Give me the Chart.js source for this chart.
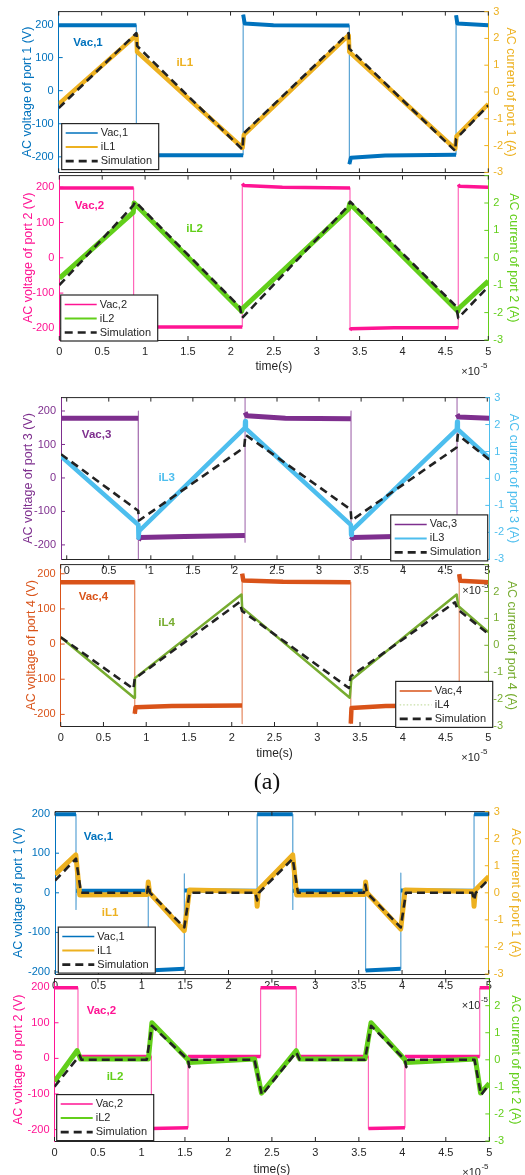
<!DOCTYPE html>
<html>
<head>
<meta charset="utf-8">
<script src="https://cdn.jsdelivr.net/npm/chart.js@4.4.1/dist/chart.umd.min.js"></script>
<style>
    html, body { margin: 0; padding: 0; background: #fff; }
    body { width: 525px; height: 1175px; overflow: hidden; position: relative; }
    canvas { position: absolute; left: 0; }
    #tag { position: absolute; left: 0; width: 534px; top: 768px; line-height: 28px; text-align: center;
           font: 24px 'Liberation Serif', 'Times New Roman', serif; color: #111; }
</style>
</head>
<body>
<canvas id="c1"></canvas>
<canvas id="c2"></canvas>
<canvas id="c3"></canvas>
<canvas id="c4"></canvas>
<canvas id="c5"></canvas>
<canvas id="c6"></canvas>
<div id="tag">(a)</div>
<script>
(function(){

    var FONT = "'Liberation Sans', Arial, sans-serif";

    // time axis is in units of 1e-5 s
    var tickX = [0, 0.5, 1, 1.5, 2, 2.5, 3, 3.5, 4, 4.5, 5];
    var tickV = [-200, -100, 0, 100, 200];
    var tickA = [-3, -2, -1, 0, 1, 2, 3];

    // (a) port 1
    var vac1aT = [0, 0.904, 0.904, 2.147, 2.147, 2.165, 2.5, 3.383, 3.383, 3.4, 3.8, 4.625, 4.625, 4.64, 5];
    var vac1aV = [198, 198, -195, -195, 230, 203, 198, 197, -222, -203, -196, -194, 228, 203, 198];
    var il1aT = [0, 0.905, 0.912, 2.14, 2.155, 3.375, 3.382, 4.615, 4.63, 5];
    var il1aA = [-0.45, 2.12, 1.5, -2.08, -1.6, 2.12, 1.5, -2.12, -1.65, -0.45];
    var sim1aT = [0, 0.905, 0.912, 2.14, 2.15, 3.375, 3.382, 4.615, 4.625, 5];
    var sim1aA = [-0.6, 2.2, 1.72, -2.15, -1.55, 2.2, 1.62, -2.2, -1.75, -0.5];

    // (a) port 2
    var vac2aT = [0, 0.866, 0.866, 2.133, 2.133, 2.15, 2.6, 3.388, 3.388, 3.4, 3.9, 4.65, 4.65, 4.665, 5];
    var vac2aV = [198, 198, -196, -196, 210, 205, 200, 198, -205, -201, -198, -198, 208, 203, 200];
    var il2aT = [0, 0.862, 0.872, 2.125, 2.135, 3.372, 3.385, 4.645, 4.655, 5];
    var il2aA = [-0.75, 1.66, 2.0, -1.95, -1.85, 1.78, 1.98, -1.95, -1.85, -0.85];
    var sim2aT = [0, 0.86, 0.885, 2.105, 2.13, 3.37, 3.39, 4.625, 4.65, 5];
    var sim2aA = [-1.0, 1.9, 2.05, -1.8, -2.2, 1.9, 2.05, -1.77, -2.2, -1.05];

    // (a) port 3
    var vac3aT = [-0.068, 0.85, 0.852, 0.852, 0.853, 0.87, 1.4, 2.118, 2.12, 2.12, 2.121, 2.14, 2.6,
                  3.378, 3.38, 3.38, 3.381, 3.4, 3.9, 4.638, 4.64, 4.64, 4.641, 4.66, 5.024];
    var vac3aV = [178, 178, 200, -250, -186, -178, -175, -172, -192, 250, 196, 186, 178,
                  177, 200, -250, -185, -178, -175, -172, -170, 250, 190, 182, 178];
    var il3aT = [-0.068, 0.85, 0.853, 0.862, 2.118, 2.121, 2.13, 3.378, 3.381, 3.39, 4.638, 4.641, 4.65, 5.024];
    var il3aA = [0.82, -1.72, -2.2, -1.95, 1.88, 2.12, 1.85, -1.72, -2.1, -1.93, 1.82, 2.1, 1.82, 0.75];
    var sim3aT = [-0.068, 0.85, 0.86, 2.11, 2.125, 3.375, 3.385, 4.635, 4.65, 5.024];
    var sim3aA = [0.9, -1.2, -1.56, 1.15, 1.62, -1.15, -1.56, 1.15, 1.62, 0.7];

    // (a) port 4
    var vac4aT = [0, 0.864, 0.866, 0.866, 0.875, 1.3, 2.12, 2.122, 2.122, 2.135, 2.6,
                  3.39, 3.392, 3.392, 3.4, 3.8, 4.658, 4.66, 4.67, 5];
    var vac4aV = [176, 176, 180, -198, -180, -176, -175, -226, 200, 181, 177,
                  176, 176, -226, -182, -176, -175, 199, 180, 176];
    var il4aT = [0, 0.858, 0.868, 2.114, 2.122, 3.38, 3.398, 4.63, 4.648, 5];
    var il4aA = [0.3, -1.95, -1.22, 1.89, 1.4, -1.95, -1.28, 1.89, 1.46, 0.49];
    var sim4aT = [0, 0.85, 0.866, 2.09, 2.12, 3.37, 3.39, 4.61, 4.64, 5];
    var sim4aA = [0.3, -1.62, -1.24, 1.6, 1.28, -1.59, -1.16, 1.6, 1.34, 0.43];

    // (b) port 1
    var vac1bT = [0, 0.242, 0.242, 0.244, 1.075, 1.075, 1.49, 1.49, 1.492, 2.33, 2.33, 2.74, 2.74, 2.742,
                  3.58, 3.58, 3.985, 3.985, 3.987, 4.83, 4.83, 5];
    var vac1bV = [198, 198, -42, 5, 5, -196, -192, 48, 6, 5, 198, 198, -42, 5,
                  5, -196, -192, 50, 6, 5, 198, 198];
    var il1bT = [0, 0.24, 0.285, 1.065, 1.075, 1.09, 1.49, 1.55, 2.32, 2.33, 2.345, 2.74, 2.785,
                 3.57, 3.58, 3.595, 3.985, 4.035, 4.82, 4.83, 4.845, 5];
    var il1bA = [0.68, 1.4, -0.08, -0.06, 0.4, 0.0, -1.4, 0.1, 0.05, -0.5, 0.1, 1.4, -0.08,
                 -0.06, 0.4, 0.0, -1.34, 0.1, 0.05, -0.5, 0.1, 0.6];
    var sim1bT = [0, 0.242, 0.3, 1.06, 1.078, 1.095, 1.49, 1.55, 2.31, 2.33, 2.35, 2.74, 2.8,
                  3.56, 3.578, 3.595, 3.985, 4.045, 4.81, 4.83, 4.85, 5];
    var sim1bA = [0.45, 1.26, 0.0, 0.0, 0.3, 0.0, -1.28, 0.0, 0.0, -0.28, 0.0, 1.26, 0.0,
                  0.0, 0.3, 0.0, -1.28, 0.0, 0.0, -0.28, 0.0, 0.5];

    // (b) port 2
    var vac2bT = [0, 0.27, 0.27, 1.114, 1.114, 1.536, 1.536, 2.37, 2.37, 2.78, 2.78, 3.61, 3.61, 4.03, 4.03, 4.89, 4.89, 5];
    var vac2bV = [198, 198, 5, 5, -197, -195, 5, 5, 198, 198, 5, 5, -197, -195, 5, 5, 198, 198];
    var il2bT = [0, 0.26, 0.3, 1.08, 1.12, 1.536, 1.545, 2.3, 2.38, 2.78, 2.82, 3.57, 3.64, 4.03, 4.04, 4.84, 4.9, 5];
    var il2bA = [-0.8, 0.34, 0.03, 0.03, 1.37, 0.0, -0.1, 0.03, -1.23, 0.34, 0.03, 0.03, 1.37, 0.0, -0.1, 0.03, -1.23, -0.87];
    var sim2bT = [0, 0.29, 0.31, 1.06, 1.12, 1.536, 1.55, 1.575, 2.3, 2.385, 2.78, 2.82,
                  3.57, 3.64, 4.03, 4.045, 4.07, 4.83, 4.905, 5];
    var sim2bA = [-0.99, 0.16, 0.0, 0.0, 1.26, 0.0, -0.27, 0.0, 0.0, -1.3, 0.28, 0.0,
                  0.0, 1.26, 0.0, -0.27, 0.0, 0.0, -1.3, -0.9];

    var BLUE = '#0072BD', GOLD = '#EDB120', PINK = '#FF1493', LIME = '#62CF1A',
        PURPLE = '#7E2F8E', SKY = '#4DBEEE', RUST = '#D95319', OLIVE = '#77AC30';

    var panels = [
        { id: 'c1', top: 0, height: 184, L: 58.7, R: 488.3, T: 8.5, B: 173, xMin: 0, xMax: 5, vMin: -247, vMax: 239,
          vColor: BLUE, iColor: GOLD, port: 1, vTitleX: 27.3, iTitleX: 510,
          xLabels: false, xTitle: false, x10: false, hideTopA: false,
          vac: { t: vac1aT, v: vac1aV, label: 'Vac,1', w: 4 }, il: { t: il1aT, a: il1aA, label: 'iL1', w: 4.5 },
          sim: { t: sim1aT, a: sim1aA }, vacTag: [0.17, 146], ilTag: [1.37, 84], legend: [3, 112] },
        { id: 'c2', top: 164, height: 216, L: 59.3, R: 488.3, T: 172.3, B: 340, xMin: 0, xMax: 5, vMin: -233, vMax: 233,
          vColor: PINK, iColor: LIME, port: 2, vTitleX: 28.3, iTitleX: 513,
          xLabels: true, xTitle: true, xTitlePad: 6, x10: true, hideTopA: true,
          vac: { t: vac2aT, v: vac2aV, label: 'Vac,2', w: 3.5 }, il: { t: il2aT, a: il2aA, label: 'iL2', w: 5 },
          sim: { t: sim2aT, a: sim2aA }, vacTag: [0.18, 146], ilTag: [1.48, 81], legend: [1.4, 119.4] },
        { id: 'c3', top: 386, height: 214, L: 61, R: 489.3, T: 395, B: 559.3, xMin: -0.068, xMax: 5.024, vMin: -243, vMax: 240,
          vColor: PURPLE, iColor: SKY, port: 3, vTitleX: 28.3, iTitleX: 513,
          xLabels: true, xTitle: false, x10: true, hideTopA: false,
          vac: { t: vac3aT, v: vac3aV, label: 'Vac,3', w: 5 }, il: { t: il3aT, a: il3aA, label: 'iL3', w: 4.5 },
          sim: { t: sim3aT, a: sim3aA }, vacTag: [0.18, 128], ilTag: [1.09, 0], legend: [329.7, 117.3] },
        { id: 'c4', top: 553, height: 213, L: 60.7, R: 488.3, T: 561.5, B: 726, xMin: 0, xMax: 5, vMin: -233, vMax: 226,
          vColor: RUST, iColor: OLIVE, port: 4, vTitleX: 31.7, iTitleX: 511.7,
          xLabels: true, xTitle: true, xTitlePad: 4.8, x10: true, hideTopA: true,
          vac: { t: vac4aT, v: vac4aV, label: 'Vac,4', w: 4.5 },
          il: { t: il4aT, a: il4aA, label: 'iL4', w: 2.5, legendColor: '#b9d690', legendWidth: 1, legendDash: [1.5, 2] },
          sim: { t: sim4aT, a: sim4aA }, vacTag: [0.21, 133], ilTag: [1.14, 59], legend: [335, 116.8] },
        { id: 'c5', top: 800, height: 214, L: 55, R: 488.8, T: 809.5, B: 974, xMin: 0, xMax: 5, vMin: -205, vMax: 205,
          vColor: BLUE, iColor: GOLD, port: 1, vTitleX: 18.3, iTitleX: 515,
          xLabels: true, xTitle: false, x10: true, hideTopA: false,
          vac: { t: vac1bT, v: vac1bV, label: 'Vac,1', w: 4 }, il: { t: il1bT, a: il1bA, label: 'iL1', w: 5 },
          sim: { t: sim1bT, a: sim1bA }, vacTag: [0.33, 142], ilTag: [0.54, -50], legend: [3.3, 115.5] },
        { id: 'c6', top: 967, height: 218, L: 54.5, R: 489.3, T: 975.7, B: 1141, xMin: 0, xMax: 5, vMin: -232, vMax: 224,
          vColor: PINK, iColor: LIME, port: 2, vTitleX: 18.3, iTitleX: 515,
          xLabels: true, xTitle: true, xTitlePad: 7.8, x10: true, hideTopA: true,
          vac: { t: vac2bT, v: vac2bV, label: 'Vac,2', w: 3.5 }, il: { t: il2bT, a: il2bA, label: 'iL2', w: 5 },
          sim: { t: sim2bT, a: sim2bA }, vacTag: [0.37, 134], ilTag: [0.6, -51], legend: [2.2, 116] }
    ];

    function pts(t, y) {
        return t.map(function (v, i) { return { x: v, y: y[i] }; });
    }

    function fade(hex, a) {
        var n = parseInt(hex.slice(1), 16);
        return 'rgba(' + (n >> 16) + ',' + ((n >> 8) & 255) + ',' + (n & 255) + ',' + a + ')';
    }

    // fast switching edges come out thin and pale on the scope
    function edges(color, w) {
        function vert(c) { return Math.abs(c.p1.x - c.p0.x) < 0.5; }
        return {
            borderWidth: function (c) { return vert(c) ? 1.2 : w; },
            borderColor: function (c) { return vert(c) ? fade(color, 0.65) : color; }
        };
    }

    function seg(ctx, x0, y0, x1, y1, color) {
        ctx.strokeStyle = color;
        ctx.beginPath();
        ctx.moveTo(x0, y0);
        ctx.lineTo(x1, y1);
        ctx.stroke();
    }

    function decor(p) {
        return {
            id: 'decor',
            afterDraw: function (chart) {
                var ctx = chart.ctx, a = chart.chartArea;
                var sx = chart.scales.x, sv = chart.scales.y, si = chart.scales.y1;
                ctx.save();
                ctx.lineWidth = 1;
                seg(ctx, a.left, a.top, a.right, a.top, '#262626');

                // matlab style inward ticks
                tickX.forEach(function (v) {
                    var x = sx.getPixelForValue(v);
                    seg(ctx, x, a.bottom, x, a.bottom - 4, '#262626');
                    seg(ctx, x, a.top, x, a.top + 4, '#262626');
                });
                tickV.forEach(function (v) {
                    var y = sv.getPixelForValue(v);
                    seg(ctx, a.left, y, a.left + 4, y, p.vColor);
                });
                tickA.forEach(function (v) {
                    var y = si.getPixelForValue(v);
                    seg(ctx, a.right, y, a.right - 4, y, p.iColor);
                });

                ctx.font = 'bold 11.5px ' + FONT;
                ctx.textAlign = 'left';
                ctx.textBaseline = 'middle';
                ctx.fillStyle = p.vColor;
                ctx.fillText(p.vac.label, sx.getPixelForValue(p.vacTag[0]), sv.getPixelForValue(p.vacTag[1]));
                ctx.fillStyle = p.iColor;
                ctx.fillText(p.il.label, sx.getPixelForValue(p.ilTag[0]), sv.getPixelForValue(p.ilTag[1]));

                // legend box
                var lx = a.left + p.legend[0], ly = a.top + p.legend[1];
                ctx.fillStyle = '#fff';
                ctx.fillRect(lx, ly, 97, 46);
                ctx.strokeStyle = '#262626';
                ctx.lineWidth = 1.2;
                ctx.strokeRect(lx, ly, 97, 46);
                var rows = [
                    [p.vac.label, p.vColor, 1.5, []],
                    [p.il.label, p.il.legendColor || p.iColor, p.il.legendWidth || 2, p.il.legendDash || []],
                    ['Simulation', '#222', 2.6, [8, 5]]
                ];
                var rowY = [9.5, 23.5, 37.5];
                rows.forEach(function (r, k) {
                    var y = ly + rowY[k];
                    ctx.lineWidth = r[2];
                    ctx.setLineDash(r[3]);
                    seg(ctx, lx + 4, y, lx + 36, y, r[1]);
                    ctx.setLineDash([]);
                    ctx.fillStyle = '#262626';
                    ctx.font = '11px ' + FONT;
                    ctx.fillText(r[0], lx + 39, y);
                });

                if (p.x10) {
                    var ex = a.right - 27, ey = a.bottom + 32;
                    ctx.fillStyle = '#262626';
                    ctx.font = '11px ' + FONT;
                    ctx.fillText('\u00d710', ex, ey);
                    var w = ctx.measureText('\u00d710').width;
                    ctx.font = '8px ' + FONT;
                    ctx.fillText('-5', ex + w + 0.5, ey - 6);
                }
                ctx.restore();
            }
        };
    }

    function makeChart(p) {
        var cv = document.getElementById(p.id);
        cv.width = 525;
        cv.height = p.height;
        cv.style.top = p.top + 'px';
        var padTop = p.T - p.top;
        var bottomH = p.height - (p.B - p.top);

        return new Chart(cv.getContext('2d'), {
            type: 'line',
            data: {
                datasets: [
                    { label: 'Simulation', data: pts(p.sim.t, p.sim.a), yAxisID: 'y1', borderColor: '#222',
                      borderWidth: 2.6, borderDash: [8, 5], order: 0 },
                    { label: p.il.label, data: pts(p.il.t, p.il.a), yAxisID: 'y1', borderColor: p.iColor,
                      borderWidth: p.il.w, order: 1 },
                    { label: p.vac.label, data: pts(p.vac.t, p.vac.v), yAxisID: 'y', borderColor: p.vColor,
                      borderWidth: p.vac.w, segment: edges(p.vColor, p.vac.w), order: 2 }
                ]
            },
            options: {
                responsive: false,
                animation: false,
                devicePixelRatio: 1,
                events: [],
                layout: { padding: { top: padTop, left: 0, right: 0, bottom: 0 } },
                elements: {
                    point: { radius: 0 },
                    line: { tension: 0, fill: false, borderCapStyle: 'butt', borderJoinStyle: 'round' }
                },
                datasets: { line: { clip: 0 } },
                scales: {
                    x: {
                        type: 'linear', min: p.xMin, max: p.xMax,
                        afterBuildTicks: function (s) { s.ticks = tickX.map(function (v) { return { value: v }; }); },
                        afterFit: function (s) { s.height = bottomH; },
                        grid: { display: false, drawTicks: false },
                        border: { display: true, color: '#262626', width: 1 },
                        ticks: { display: p.xLabels, color: '#262626', font: { size: 11 }, padding: 5,
                                 maxRotation: 0, autoSkip: false, callback: function (v) { return String(v); } },
                        title: { display: p.xTitle, text: 'time(s)', color: '#262626', font: { size: 12 },
                                 padding: { top: 0, bottom: p.xTitlePad || 0 } }
                    },
                    y: {
                        type: 'linear', position: 'left', min: p.vMin, max: p.vMax,
                        afterBuildTicks: function (s) { s.ticks = tickV.map(function (v) { return { value: v }; }); },
                        afterFit: function (s) { s.width = p.L; },
                        grid: { display: false, drawTicks: false },
                        border: { display: true, color: p.vColor, width: 1 },
                        ticks: { color: p.vColor, font: { size: 11 }, padding: 5,
                                 callback: function (v) { return String(v); } },
                        title: { display: true, text: 'AC voltage of port ' + p.port + ' (V)', color: p.vColor,
                                 font: { size: 12.5 }, padding: { top: p.vTitleX - 7.5, bottom: 0 } }
                    },
                    y1: {
                        type: 'linear', position: 'right', min: -3, max: 3,
                        afterBuildTicks: function (s) { s.ticks = tickA.map(function (v) { return { value: v }; }); },
                        afterFit: function (s) { s.width = 525 - p.R; },
                        grid: { display: false, drawTicks: false },
                        border: { display: true, color: p.iColor, width: 1 },
                        ticks: { color: p.iColor, font: { size: 11 }, padding: 5,
                                 callback: function (v) { return (p.hideTopA && v === 3) ? '' : String(v); } },
                        title: { display: true, text: 'AC current of port ' + p.port + ' (A)', color: p.iColor,
                                 font: { size: 12.5 }, padding: { top: (525 - p.iTitleX) - 7.5, bottom: 0 } }
                    }
                },
                plugins: { legend: { display: false }, tooltip: { enabled: false } }
            },
            plugins: [decor(p)]
        });
    }

    Chart.defaults.font.family = FONT;
    panels.forEach(makeChart);

})();
</script>
</body>
</html>
